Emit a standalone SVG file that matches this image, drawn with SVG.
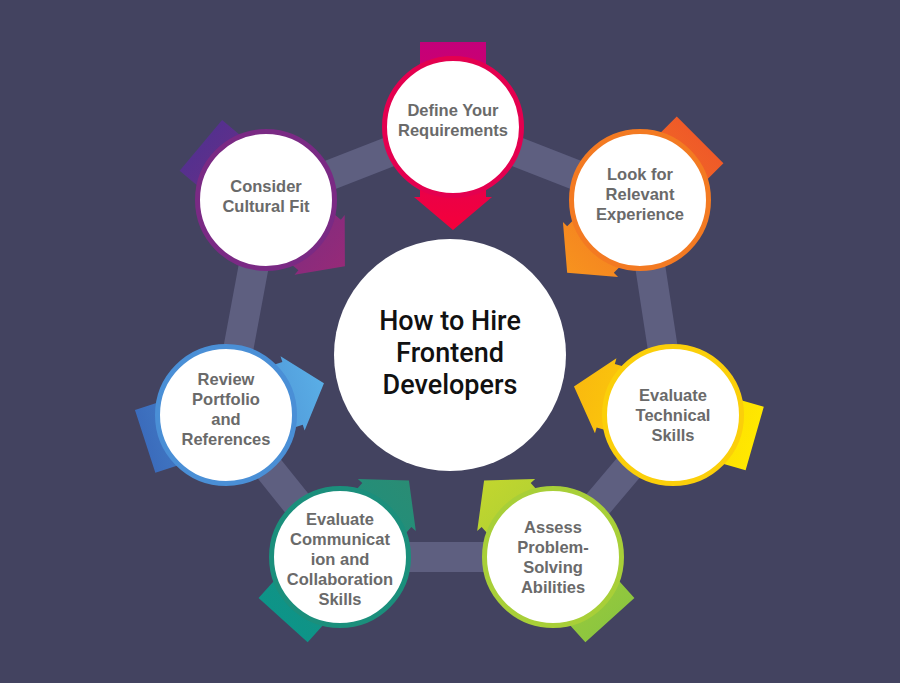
<svg xmlns="http://www.w3.org/2000/svg" width="900" height="683" viewBox="0 0 900 683">
<defs>
<style>
.lbl{font-family:"Liberation Sans",Arial,sans-serif;font-weight:bold;font-size:16.5px;fill:#6a6a6a;text-anchor:middle}
.ttl{font-family:Roboto,"Liberation Sans",sans-serif;font-weight:500;font-size:27px;fill:#111;text-anchor:middle}
.c{fill:#fff;stroke-width:5}
</style>
<path id="arr" d="M-85,-33 H70 V-39 L103,0 L70,39 V33 H-85 Z"/>
<linearGradient id="g1" gradientUnits="userSpaceOnUse" x1="-85" y1="0" x2="103" y2="0"><stop offset="0" stop-color="#c4007a"/><stop offset="1" stop-color="#f5003a"/></linearGradient>
<linearGradient id="g2" gradientUnits="userSpaceOnUse" x1="-85" y1="0" x2="103" y2="0"><stop offset="0" stop-color="#ef5a28"/><stop offset="1" stop-color="#f7931e"/></linearGradient>
<linearGradient id="g3" gradientUnits="userSpaceOnUse" x1="-85" y1="0" x2="103" y2="0"><stop offset="0" stop-color="#ffe800"/><stop offset="1" stop-color="#f9b90f"/></linearGradient>
<linearGradient id="g4" gradientUnits="userSpaceOnUse" x1="-85" y1="0" x2="103" y2="0"><stop offset="0" stop-color="#8dc63f"/><stop offset="1" stop-color="#c2d62e"/></linearGradient>
<linearGradient id="g5" gradientUnits="userSpaceOnUse" x1="-85" y1="0" x2="103" y2="0"><stop offset="0" stop-color="#0d9488"/><stop offset="1" stop-color="#2a8c74"/></linearGradient>
<linearGradient id="g6" gradientUnits="userSpaceOnUse" x1="-85" y1="0" x2="103" y2="0"><stop offset="0" stop-color="#3b6cbc"/><stop offset="1" stop-color="#5aaee6"/></linearGradient>
<linearGradient id="g7" gradientUnits="userSpaceOnUse" x1="-85" y1="0" x2="103" y2="0"><stop offset="0" stop-color="#55308e"/><stop offset="1" stop-color="#962a78"/></linearGradient>
</defs>
<rect width="900" height="683" fill="#434360"/>
<g id="connectors" stroke="#5e5f80" stroke-width="30" fill="none" stroke-linejoin="round">
<polygon points="453,127 640,200 673,415 553,557 340,557 226,415 266,200"/>
</g>
<g id="center"><circle cx="450" cy="355" r="116" fill="#fff"/>
<text class="ttl" x="450" y="330">How to Hire</text><text class="ttl" x="450" y="362">Frontend</text><text class="ttl" x="450" y="394">Developers</text></g>
<g id="n1"><use href="#arr" fill="url(#g1)" transform="translate(453,127) rotate(90)"/><circle class="c" cx="453" cy="127" r="68.5" stroke="#e4004f"/>
<text class="lbl" x="453" y="116">Define Your</text><text class="lbl" x="453" y="136">Requirements</text></g>
<g id="n2"><use href="#arr" fill="url(#g2)" transform="translate(640,200) rotate(135)"/><circle class="c" cx="640" cy="200" r="68.5" stroke="#f37a22"/>
<text class="lbl" x="640" y="180">Look for</text><text class="lbl" x="640" y="200">Relevant</text><text class="lbl" x="640" y="220">Experience</text></g>
<g id="n3"><use href="#arr" fill="url(#g3)" transform="translate(673,415) rotate(196)"/><circle class="c" cx="673" cy="415" r="68.5" stroke="#fbcf0a"/>
<text class="lbl" x="673" y="401">Evaluate</text><text class="lbl" x="673" y="421">Technical</text><text class="lbl" x="673" y="441">Skills</text></g>
<g id="n4"><use href="#arr" fill="url(#g4)" transform="translate(553,557) rotate(228)"/><circle class="c" cx="553" cy="557" r="68.5" stroke="#a8cf38"/>
<text class="lbl" x="553" y="533">Assess</text><text class="lbl" x="553" y="553">Problem-</text><text class="lbl" x="553" y="573">Solving</text><text class="lbl" x="553" y="593">Abilities</text></g>
<g id="n5"><use href="#arr" fill="url(#g5)" transform="translate(340,557) rotate(-48)"/><circle class="c" cx="340" cy="557" r="68.5" stroke="#1b8f7c"/>
<text class="lbl" x="340" y="525">Evaluate</text><text class="lbl" x="340" y="545">Communicat</text><text class="lbl" x="340" y="565">ion and</text><text class="lbl" x="340" y="585">Collaboration</text><text class="lbl" x="340" y="605">Skills</text></g>
<g id="n6"><use href="#arr" fill="url(#g6)" transform="translate(226,415) rotate(-18)"/><circle class="c" cx="226" cy="415" r="68.5" stroke="#4a8fd6"/>
<text class="lbl" x="226" y="385">Review</text><text class="lbl" x="226" y="405">Portfolio</text><text class="lbl" x="226" y="425">and</text><text class="lbl" x="226" y="445">References</text></g>
<g id="n7"><use href="#arr" fill="url(#g7)" transform="translate(266,200) rotate(40)"/><circle class="c" cx="266" cy="200" r="68.5" stroke="#7a2a84"/>
<text class="lbl" x="266" y="192">Consider</text><text class="lbl" x="266" y="212">Cultural Fit</text></g>
</svg>
